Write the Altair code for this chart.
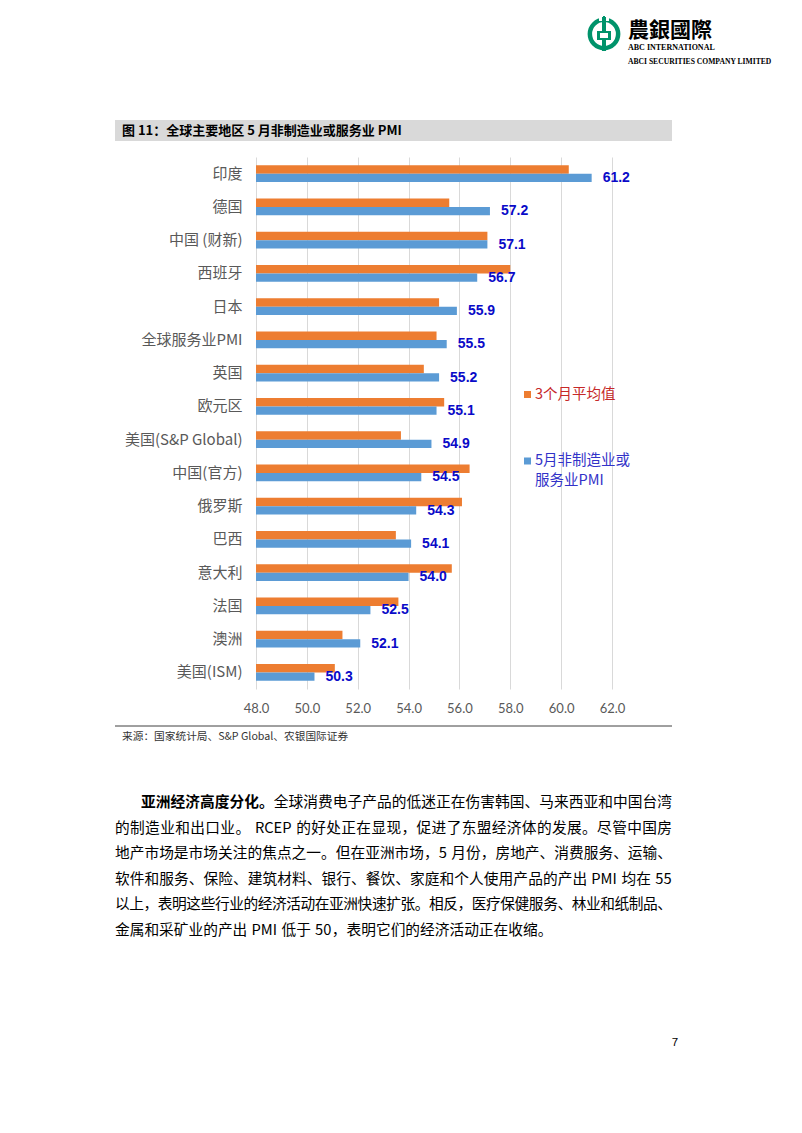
import re
import altair as alt
import pandas as pd

# ---- data ----
categories = ["印度", "德国", "中国 (财新)", "西班牙", "日本", "全球服务业PMI", "英国", "欧元区",
              "美国(S&P Global)", "中国(官方)", "俄罗斯", "巴西", "意大利", "法国", "澳洲", "美国(ISM)"]
may_pmi = [61.2, 57.2, 57.1, 56.7, 55.9, 55.5, 55.2, 55.1, 54.9, 54.5, 54.3, 54.1, 54.0, 52.5, 52.1, 50.3]
avg_3m = [60.3, 55.6, 57.1, 58.0, 55.2, 55.1, 54.6, 55.4, 53.7, 56.4, 56.1, 53.5, 55.7, 53.6, 51.4, 51.1]
series = ["3个月平均值", "5月非制造业或服务业PMI"]
x_ticks = [48, 50, 52, 54, 56, 58, 60, 62]

title_text = "图 11：全球主要地区 5 月非制造业或服务业 PMI"
source_text = "来源：国家统计局、S&P Global、农银国际证券"
para_bold = "亚洲经济高度分化。"
para_lines = [
    "全球消费电子产品的低迷正在伤害韩国、马来西亚和中国台湾",
    "的制造业和出口业。 RCEP 的好处正在显现，促进了东盟经济体的发展。尽管中国房",
    "地产市场是市场关注的焦点之一。但在亚洲市场，5 月份，房地产、消费服务、运输、",
    "软件和服务、保险、建筑材料、银行、餐饮、家庭和个人使用产品的产出 PMI 均在 55",
    "以上，表明这些行业的经济活动在亚洲快速扩张。相反，医疗保健服务、林业和纸制品、",
    "金属和采矿业的产出 PMI 低于 50，表明它们的经济活动正在收缩。",
]

rows = []
for c, a, m in zip(categories, avg_3m, may_pmi):
    rows.append({"地区": c, "系列": series[0], "值": a})
    rows.append({"地区": c, "系列": series[1], "值": m})
df = pd.DataFrame(rows)
df_may = pd.DataFrame({"地区": categories, "值": may_pmi})

ORANGE = "#ED7D31"
BLUE = "#5B9BD5"
CJK = "Noto Sans CJK SC"

y_enc = alt.Y("地区:N", sort=categories,
              scale=alt.Scale(paddingInner=0.5, paddingOuter=0.25),
              axis=alt.Axis(title=None, domain=False, ticks=False, labelFontSize=15,
                            labelColor="#595959", labelFont=CJK, labelPadding=14))
x_enc = alt.X("值:Q", scale=alt.Scale(domain=[48, 62], zero=False, nice=False),
              axis=alt.Axis(values=x_ticks, format=".1f", title=None, domain=False, ticks=False,
                            grid=True, gridColor="#D9D9D9", gridWidth=1, labelFontSize=13,
                            labelColor="#595959", labelFont="Lato", labelPadding=13,
                            labelFlush=False, labelOverlap=False))

bars = alt.Chart(df).mark_bar().encode(
    y=y_enc,
    yOffset=alt.YOffset("系列:N", sort=series, scale=alt.Scale(domain=series)),
    x=x_enc,
    x2=alt.datum(48),
    color=alt.Color("系列:N", scale=alt.Scale(domain=series, range=[ORANGE, BLUE]), legend=None),
)

labels = alt.Chart(df_may).mark_text(
    align="left", baseline="middle", dx=11, dy=4.5, font="Liberation Sans",
    fontWeight="bold", fontSize=14, color="#0A0AC8"
).encode(
    y=alt.Y("地区:N", sort=categories),
    x=alt.X("值:Q"),
    text=alt.Text("值:Q", format=".1f"),
)

one = pd.DataFrame({"k": [0]})


def txt(s, x, y, size, color="#000000", weight="normal", font=CJK, align="left"):
    return alt.Chart(pd.DataFrame({"t": [s]})).mark_text(
        align=align, baseline="middle", fontSize=size, color=color, fontWeight=weight, font=font
    ).encode(x=alt.value(x), y=alt.value(y), text="t:N")


# ---- justified paragraph layout ----
FS = 14.7
LAT = {"R": .64, "C": .64, "E": .58, "P": .62, "M": .86, "I": .29}


def toks(s):
    return re.findall(r"[A-Za-z0-9]+|.", s)


def tw(t):
    if re.match(r"[A-Za-z0-9]", t):
        return sum(LAT.get(ch, 0.57) for ch in t) * FS
    if t == " ":
        return 0.28 * FS
    return FS


def layout(parts, x0, x1, y, justify):
    items = []
    for s, w in parts:
        for t in toks(s):
            items.append((t, w))
    total = sum(tw(t) for t, _ in items)
    extra = (x1 - x0 - total) / (len(items) - 1) if justify else 0.0
    out = []
    x = x0
    for t, w in items:
        if t != " ":
            out.append({"t": t, "w": w, "px": x, "py": y})
        x += tw(t) + extra
    return out


LEFT, RIGHT = -141, 416
prow = layout([(para_bold, "bold"), (para_lines[0], "normal")], -115, RIGHT, 646, True)
for i, line in enumerate(para_lines[1:]):
    prow += layout([(line, "normal")], LEFT, RIGHT, 672 + i * 25.4, i < len(para_lines) - 2)
pdf = pd.DataFrame(prow)


def para_layer(weight):
    return alt.Chart(pdf[pdf["w"] == weight]).mark_text(
        align="left", baseline="middle", fontSize=FS, color="#000000", fontWeight=weight, font=CJK
    ).encode(x=alt.X("px:Q", scale=None), y=alt.Y("py:Q", scale=None), text="t:N")


para = [para_layer("bold"), para_layer("normal")]

# title bar
title_bar = alt.Chart(one).mark_rect(color="#D9D9D9").encode(
    x=alt.value(-141), x2=alt.value(416), y=alt.value(-37), y2=alt.value(-16))
title = txt(title_text, -134, -26, 13, weight="bold")

# bottom rule + source
rule = alt.Chart(one).mark_rule(color="#404040", strokeWidth=1).encode(
    x=alt.value(-141), x2=alt.value(416), y=alt.value(569))
source = txt(source_text, -134, 580, 10.7, color="#333333")

# legend (manual)
leg_sq = alt.Chart(pd.DataFrame({"系列": series, "py": [237.5, 304]})).mark_point(
    shape="square", filled=True, size=49, opacity=1
).encode(
    x=alt.value(271.5), y=alt.Y("py:Q", scale=None),
    color=alt.Color("系列:N", scale=alt.Scale(domain=series, range=[ORANGE, BLUE]), legend=None),
)
leg1 = txt(series[0], 279, 238, 14.5, color="#C62828")
leg2a = txt("5月非制造业或", 279, 304, 14.5, color="#3232C8")
leg2b = txt("服务业PMI", 279, 324, 14.5, color="#3232C8")

page_no = txt("7", 419, 886, 11.5, font="Liberation Sans", align="center")

# header logo
LOGO = "#00936B"
ring = alt.Chart(one).mark_point(shape="circle", filled=False, size=800, strokeWidth=4.5,
                                 color=LOGO, opacity=1).encode(x=alt.value(348), y=alt.value(-123))
stem = alt.Chart(one).mark_rule(color=LOGO, strokeWidth=4).encode(
    x=alt.value(348), y=alt.value(-140), y2=alt.value(-106))
box = alt.Chart(one).mark_rect(color=LOGO).encode(
    x=alt.value(341), x2=alt.value(355), y=alt.value(-126), y2=alt.value(-117))
inner = alt.Chart(one).mark_rect(color="#FFFFFF").encode(
    x=alt.value(344), x2=alt.value(352), y=alt.value(-124), y2=alt.value(-119))
gap = alt.Chart(one).mark_rect(color="#FFFFFF").encode(
    x=alt.value(343), x2=alt.value(353), y=alt.value(-142), y2=alt.value(-136))
stem2 = alt.Chart(one).mark_rule(color=LOGO, strokeWidth=2).encode(
    x=alt.value(348), y=alt.value(-141), y2=alt.value(-126))
hdr1 = txt("農銀國際", 372, -126, 21, weight="bold", font="Noto Sans CJK TC")
hdr2 = txt("ABC INTERNATIONAL", 372, -109, 8, weight="bold", font="Liberation Serif")
hdr3 = txt("ABCI SECURITIES COMPANY LIMITED", 372, -95, 7.6, weight="bold", font="Liberation Serif")

chart = alt.layer(
    bars, labels, title_bar, title, rule, source, leg_sq, leg1, leg2a, leg2b,
    *para, page_no, ring, gap, stem, stem2, box, inner, hdr1, hdr2, hdr3
).properties(
    width=356, height=532,
    autosize=alt.AutoSizeParams(type="none"),
    padding={"left": 248, "top": 149, "right": 180, "bottom": 429},
    background="#FFFFFF",
).configure_view(stroke=None)

chart.save("out.html", embed_options={"renderer": "svg", "actions": False})
